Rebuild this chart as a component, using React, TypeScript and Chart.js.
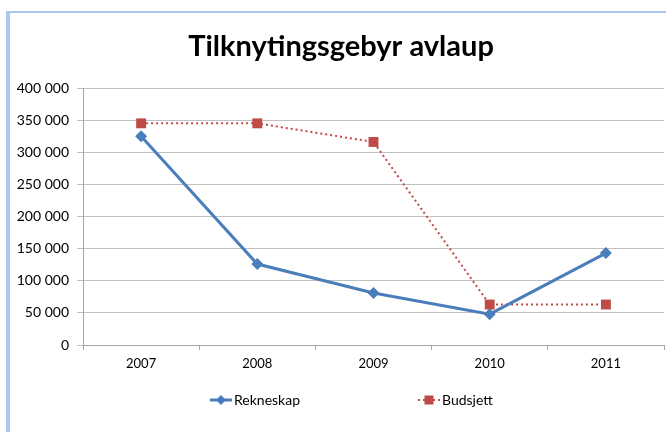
import React, { useEffect, useRef } from "react";
import { Chart, registerables } from "chart.js";

Chart.register(...registerables);

const title = "Tilknytingsgebyr avlaup";
const years = ["2007", "2008", "2009", "2010", "2011"];
const rekneskap = [325000, 126000, 81000, 48000, 143000];
const budsjett = [345000, 345000, 316000, 63000, 63000];
const seriesNames = ["Rekneskap", "Budsjett"];
const yMax = 400000;
const yStep = 50000;

const BLUE = "#4a7ebb";
const RED = "#be4b48";
const FONT = "Lato, 'DejaVu Sans', sans-serif";

const fmt = (v: number) => {
  const s = Math.round(v).toString();
  return s.replace(/\B(?=(\d{3})+(?!\d))/g, " ");
};

const drawMarker = (ctx: CanvasRenderingContext2D, kind: string, x: number, y: number, r: number, color: string) => {
  ctx.save();
  ctx.fillStyle = color;
  ctx.beginPath();
  if (kind === "rectRot") {
    ctx.moveTo(x, y - r);
    ctx.lineTo(x + r, y);
    ctx.lineTo(x, y + r);
    ctx.lineTo(x - r, y);
    ctx.closePath();
  } else {
    ctx.rect(x - r, y - r, r * 2, r * 2);
  }
  ctx.fill();
  ctx.restore();
};

const decorPlugin = {
  id: "decor",
  afterDraw(chart: any) {
    const ctx: CanvasRenderingContext2D = chart.ctx;
    ctx.save();
    ctx.fillStyle = "#000";
    ctx.font = `bold 29px ${FONT}`;
    ctx.textAlign = "center";
    ctx.textBaseline = "alphabetic";
    ctx.fillText(title, 341, 56);

    const items = [
      { x: 210, color: BLUE, dash: [] as number[], width: 3, marker: "rectRot", r: 5, name: seriesNames[0] },
      { x: 418, color: RED, dash: [2, 3], width: 2, marker: "rect", r: 4.5, name: seriesNames[1] },
    ];
    const ly = 400;
    items.forEach((it) => {
      ctx.save();
      ctx.strokeStyle = it.color;
      ctx.lineWidth = it.width;
      ctx.setLineDash(it.dash);
      ctx.beginPath();
      ctx.moveTo(it.x, ly);
      ctx.lineTo(it.x + 22, ly);
      ctx.stroke();
      ctx.restore();
      drawMarker(ctx, it.marker, it.x + 11, ly, it.r, it.color);
      ctx.fillStyle = "#000";
      ctx.font = `14px ${FONT}`;
      ctx.textAlign = "left";
      ctx.textBaseline = "middle";
      ctx.fillText(it.name, it.x + 24, ly);
    });
    ctx.restore();
  },
};

export default function App() {
  const ref = useRef<HTMLCanvasElement | null>(null);

  useEffect(() => {
    if (!ref.current) return;
    const chart = new Chart(ref.current, {
      type: "line",
      data: {
        labels: years,
        datasets: [
          {
            label: seriesNames[0],
            data: rekneskap,
            borderColor: BLUE,
            backgroundColor: BLUE,
            borderWidth: 3,
            pointStyle: "rectRot",
            pointRadius: 6,
            pointBorderWidth: 0,
            tension: 0,
          },
          {
            label: seriesNames[1],
            data: budsjett,
            borderColor: RED,
            backgroundColor: RED,
            borderWidth: 2,
            borderDash: [2, 3],
            pointStyle: "rect",
            pointRadius: 7,
            pointBorderWidth: 0,
            tension: 0,
          },
        ],
      },
      options: {
        responsive: false,
        animation: false,
        layout: { padding: { top: 88, left: 0, right: 0, bottom: 0 } },
        plugins: {
          legend: { display: false },
          title: { display: false },
          tooltip: { enabled: false },
        },
        scales: {
          x: {
            offset: true,
            grid: {
              offset: true,
              drawOnChartArea: false,
              drawTicks: true,
              tickLength: 5,
              color: "#a6a6a6",
            },
            border: { color: "#a6a6a6" },
            ticks: {
              color: "#000",
              font: { family: FONT, size: 13 },
              padding: 6,
              maxRotation: 0,
            },
            afterFit: (s: any) => {
              s.height = 87;
            },
          },
          y: {
            min: 0,
            max: yMax,
            grid: {
              color: "#c0c0c0",
              drawTicks: true,
              tickLength: 6,
            },
            border: { color: "#a6a6a6" },
            ticks: {
              stepSize: yStep,
              color: "#000",
              padding: 8,
              font: { family: FONT, size: 14 },
              callback: (v: any) => fmt(Number(v)),
            },
            afterFit: (s: any) => {
              s.width = 83;
            },
          },
        },
      },
      plugins: [decorPlugin],
    });
    return () => chart.destroy();
  }, []);

  return (
    <div style={{ position: "fixed", left: 0, top: 0, width: 666, height: 432, overflow: "hidden", background: "#fff" }}>
      <div
        style={{
          position: "absolute",
          left: 6,
          top: 11,
          right: -10,
          bottom: -10,
          borderLeft: "4px solid #a9c6ec",
          borderTop: "2px solid #a9c6ec",
          pointerEvents: "none",
          zIndex: 2,
        }}
      />
      <canvas ref={ref} width={671} height={432} style={{ position: "absolute", left: 0, top: 0 }} />
    </div>
  );
}
